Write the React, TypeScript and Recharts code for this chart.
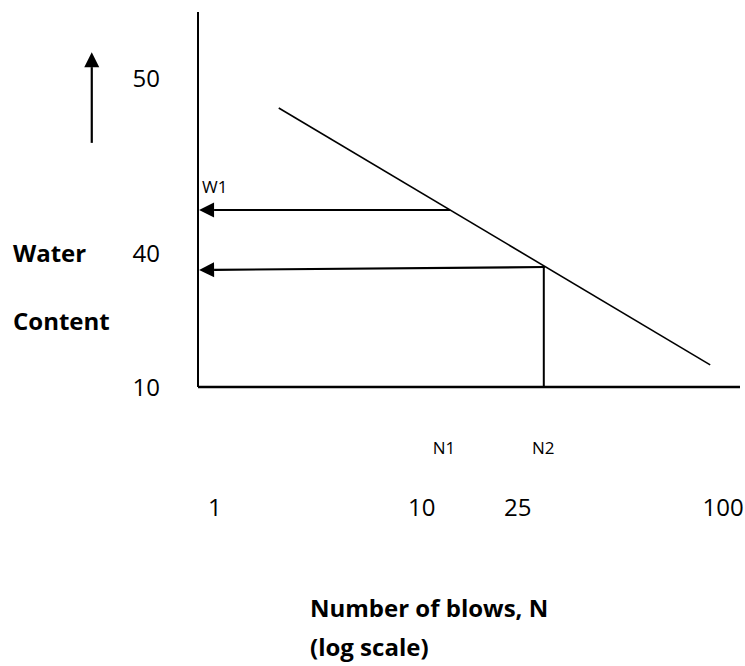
import React from 'react';
import { LineChart, Line, XAxis, YAxis, ReferenceLine, ReferenceDot } from 'recharts';

// Schematic liquid-limit sketch: positions are in plot units (0-100 on each axis),
// the printed tick labels are not to scale.
const flowLine = [
  { x: 14.9, y: 74.4 },
  { x: 94.5, y: 5.9 },
];

const yTicks = [82.3, 35.6, 0];
const yTickLabels = ['50', '40', '10'];

const xTicks = [3.1, 41.3, 59.0, 96.9];
const xTickLabels = ['1', '10', '25', '100'];

const nMarks = [
  { x: 45.4, label: 'N1' },
  { x: 63.7, label: 'N2' },
];

// [from, to] in plot units
const w1Arrow = [{ x: 46.5, y: 47.2 }, { x: 0.2, y: 47.2 }];
const w2Arrow = [{ x: 64.0, y: 32.0 }, { x: 0.2, y: 31.2 }];
const n2Drop = [{ x: 63.8, y: 32.0 }, { x: 63.8, y: 0 }];
const upArrow = [{ x: -19.6, y: 65.1 }, { x: -19.6, y: 89.3 }];
const w1Mark = { x: 0.2, y: 47.2, label: 'W1' };

const FONT = '"Open Sans", sans-serif';

const ArrowShape = (props: any) => {
  const { x1, y1, x2, y2, stroke, strokeWidth } = props;
  const len = Math.hypot(x2 - x1, y2 - y1) || 1;
  const ux = (x2 - x1) / len;
  const uy = (y2 - y1) / len;
  const head = 15;
  const half = 7.5;
  const bx = x2 - ux * head;
  const by = y2 - uy * head;
  const pts = `${x2},${y2} ${bx - uy * half},${by + ux * half} ${bx + uy * half},${by - ux * half}`;
  return (
    <g>
      <line x1={x1} y1={y1} x2={bx} y2={by} stroke={stroke} strokeWidth={strokeWidth} />
      <polygon points={pts} fill={stroke} />
    </g>
  );
};

const smallLabel = (text: string, dx: number, dy: number, anchor: string) => (p: any) => {
  const vb = p.viewBox;
  return (
    <text x={vb.x + dx} y={vb.y + dy} textAnchor={anchor} fontSize={17} fill="#000" fontFamily={FONT}>
      {text}
    </text>
  );
};

const yTitle = (p: any) => {
  const vb = p.viewBox;
  return (
    <g fontSize={24} fontWeight={700} fill="#000" fontFamily={FONT}>
      <text x={vb.x - 125} y={vb.y + 250}>Water</text>
      <text x={vb.x - 125} y={vb.y + 318}>Content</text>
    </g>
  );
};

const xTitle = (p: any) => {
  const vb = p.viewBox;
  return (
    <g fontSize={24} fontWeight={700} fill="#000" fontFamily={FONT}>
      <text x={vb.x + 112} y={vb.y + 230}>Number of blows, N</text>
      <text x={vb.x + 112} y={vb.y + 269}>(log scale)</text>
    </g>
  );
};

export default function App() {
  return (
    <div style={{ position: 'absolute', left: 0, top: 0, fontFamily: FONT, background: '#fff' }}>
      <LineChart width={745} height={666} margin={{ top: 12, right: 5, bottom: 249, left: 138 }}>
        <XAxis
          type="number"
          dataKey="x"
          domain={[0, 100]}
          ticks={xTicks}
          interval={0}
          tickFormatter={(v: number) => xTickLabels[xTicks.indexOf(v)]}
          axisLine={{ stroke: '#000', strokeWidth: 2.5 }}
          tickLine={false}
          tickSize={0}
          tickMargin={112}
          tick={{ fill: '#000', fontSize: 24 }}
          height={30}
          label={xTitle}
        />
        <YAxis
          type="number"
          dataKey="y"
          domain={[0, 100]}
          ticks={yTicks}
          interval={0}
          tickFormatter={(v: number) => yTickLabels[yTicks.indexOf(v)]}
          axisLine={{ stroke: '#000', strokeWidth: 2 }}
          tickLine={false}
          tickSize={0}
          tickMargin={38}
          tick={{ fill: '#000', fontSize: 24 }}
          width={60}
          label={yTitle}
        />
        <Line
          data={flowLine}
          dataKey="y"
          stroke="#000"
          strokeWidth={1.6}
          dot={false}
          activeDot={false}
          isAnimationActive={false}
        />
        <ReferenceLine
          segment={n2Drop}
          stroke="#000"
          strokeWidth={2}
          ifOverflow="visible"
        />
        <ReferenceLine
          segment={w1Arrow}
          stroke="#000"
          strokeWidth={2.2}
          ifOverflow="visible"
          shape={ArrowShape}
        />
        <ReferenceLine
          segment={w2Arrow}
          stroke="#000"
          strokeWidth={2.2}
          ifOverflow="visible"
          shape={ArrowShape}
        />
        <ReferenceLine
          segment={upArrow}
          stroke="#000"
          strokeWidth={2.2}
          ifOverflow="visible"
          shape={ArrowShape}
        />
        <ReferenceDot
          x={w1Mark.x}
          y={w1Mark.y}
          r={0}
          fill="none"
          stroke="none"
          ifOverflow="visible"
          label={smallLabel(w1Mark.label, 3, -17, 'start')}
        />
        {nMarks.map((m) => (
          <ReferenceDot
            key={m.label}
            x={m.x}
            y={0}
            r={0}
            fill="none"
            stroke="none"
            ifOverflow="visible"
            label={smallLabel(m.label, 0, 67, 'middle')}
          />
        ))}
      </LineChart>
    </div>
  );
}
